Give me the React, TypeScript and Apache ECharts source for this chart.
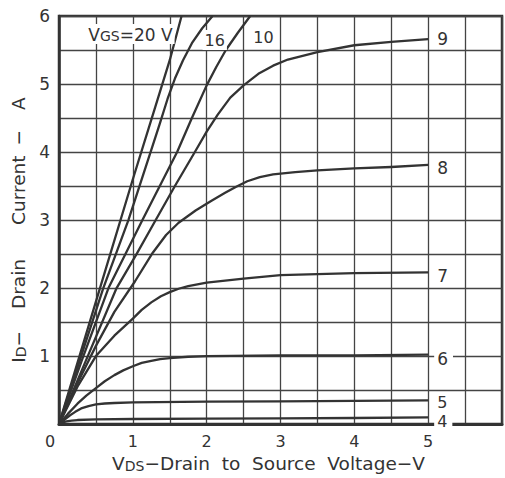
import React, { useEffect, useRef } from 'react';
import * as echarts from 'echarts';

// V_GS curves: [V_DS (V), I_D (A)]
const vgsNames = ['20', '16', '10', '9', '8', '7', '6', '5', '4'];
const curve20 = [[0, 0], [0.5, 1.8], [1, 3.6], [1.3, 4.65], [1.5, 5.35], [1.66, 6]];
const curve16 = [[0, 0], [0.3, 1.0], [0.6, 2.0], [0.94, 3.0], [1.24, 4.0], [1.36, 4.4], [1.47, 4.78], [1.57, 5.08], [1.68, 5.35], [1.8, 5.6], [1.94, 5.82], [2.08, 6.0]];
const curve10 = [[0, 0], [0.33, 1.0], [0.67, 2.0], [1.13, 3.0], [1.6, 4.0], [1.8, 4.5], [2.0, 4.98], [2.13, 5.25], [2.26, 5.5], [2.42, 5.75], [2.59, 6.0]];
const curve9 = [[0, 0], [0.39, 1.0], [0.78, 2.0], [1.05, 2.5], [1.31, 3.0], [1.57, 3.5], [1.84, 4.0], [2.0, 4.3], [2.15, 4.55], [2.32, 4.8], [2.5, 4.98], [2.7, 5.15], [2.9, 5.27], [3.1, 5.36], [3.5, 5.47], [4, 5.57], [4.5, 5.62], [5, 5.66]];
const curve8 = [[0, 0], [0.25, 0.6], [0.5, 1.15], [0.75, 1.65], [1.03, 2.1], [1.27, 2.52], [1.45, 2.78], [1.62, 2.96], [1.85, 3.14], [2.06, 3.28], [2.25, 3.4], [2.4, 3.49], [2.55, 3.57], [2.72, 3.63], [2.9, 3.67], [3.2, 3.705], [3.5, 3.73], [4, 3.76], [4.5, 3.78], [5, 3.81]];
const curve7 = [[0, 0], [0.25, 0.55], [0.5, 1.0], [0.75, 1.3], [1.0, 1.55], [1.12, 1.68], [1.25, 1.79], [1.38, 1.88], [1.5, 1.94], [1.62, 1.99], [1.75, 2.03], [2, 2.08], [2.5, 2.14], [3, 2.19], [4, 2.22], [5, 2.23]];
const curve6 = [[0, 0], [0.12, 0.15], [0.25, 0.3], [0.37, 0.42], [0.5, 0.53], [0.62, 0.63], [0.75, 0.72], [0.87, 0.79], [1, 0.85], [1.12, 0.9], [1.25, 0.93], [1.37, 0.955], [1.5, 0.97], [1.75, 0.99], [2, 1.0], [3, 1.01], [4, 1.01], [5, 1.02]];
const curve5 = [[0, 0], [0.08, 0.07], [0.15, 0.13], [0.22, 0.18], [0.3, 0.23], [0.4, 0.265], [0.5, 0.29], [0.62, 0.303], [0.75, 0.31], [1, 0.32], [2, 0.33], [3, 0.335], [4, 0.34], [5, 0.35]];
const curve4 = [[0, 0], [0.05, 0.025], [0.1, 0.04], [0.17, 0.05], [0.25, 0.06], [0.5, 0.07], [1, 0.075], [2, 0.08], [3, 0.085], [4, 0.09], [5, 0.1]];
const curves = [curve20, curve16, curve10, curve9, curve8, curve7, curve6, curve5, curve4];

const xTickLabels = ['1', '2', '3', '4', '5'];
const yTickLabels = ['1', '2', '3', '4', '5', '6'];

const FONT = 'DejaVu Sans';
const INK = '#333';

// label placement tweaks (pixels)
const labelStyle: Record<string, any> = {
  '20': { align: 'right', offset: [-12, 18] },
  '16': { offset: [-15, 24] },
  '10': { offset: [-4, 21] },
  '9': { verticalAlign: 'middle', offset: [1, 0] },
  '8': { verticalAlign: 'middle', offset: [1, 3] },
  '7': { verticalAlign: 'middle', offset: [1, 4] },
  '6': { verticalAlign: 'middle', offset: [1, 4] },
  '5': { verticalAlign: 'middle', offset: [1, 2], lineHeight: 11, fontSize: 16 },
  '4': { verticalAlign: 'middle', offset: [1, 4], lineHeight: 11, fontSize: 16 },
};

const sub = { fontFamily: FONT, fontSize: 14, color: INK, lineHeight: 12, verticalAlign: 'bottom' };
const big = { fontFamily: FONT, fontSize: 18.5, color: INK, lineHeight: 20, verticalAlign: 'bottom' };

export default function App() {
  const ref = useRef<HTMLDivElement>(null);
  useEffect(() => {
    document.body.style.margin = '0';
    const chart = echarts.init(ref.current!, null, { renderer: 'svg' });
    const series = vgsNames.map((name, k) => {
      const top = k < 3;
      return {
        type: 'line',
        name,
        data: curves[k],
        showSymbol: false,
        smooth: false,
        clip: true,
        lineStyle: { color: INK, width: 2.3, join: 'round' },
        z: 3,
        endLabel: {
          show: true,
          distance: 5,
          formatter: name === '20' ? '{v|V}{s|GS}{v|=20 V}' : name,
          color: INK,
          fontFamily: FONT,
          fontSize: top ? 16 : 17,
          lineHeight: top ? 18 : 14,
          backgroundColor: '#fff',
          padding: top ? [1, 2] : [0, 5, 0, 3],
          rich: {
            v: { fontFamily: FONT, fontSize: 17, color: INK, lineHeight: 18, verticalAlign: 'bottom' },
            s: { fontFamily: FONT, fontSize: 14, color: INK, lineHeight: 11, verticalAlign: 'bottom' },
          },
          ...labelStyle[name],
        },
      };
    });
    chart.setOption({
      animation: false,
      backgroundColor: '#fff',
      grid: { left: 59, top: 16, right: -9, bottom: 48, show: true, borderColor: INK, borderWidth: 2.5 },
      xAxis: {
        type: 'value', min: 0, max: 6, interval: 0.5,
        axisLine: { show: true, lineStyle: { color: INK, width: 3 } },
        axisTick: { show: false },
        splitLine: { show: true, lineStyle: { color: '#444', width: 1.3 } },
        axisLabel: {
          color: INK, fontFamily: FONT, fontSize: 16, margin: 9,
          formatter: (v: number) => {
            if (v === 0) return '{z|0}';
            const s = String(v);
            return xTickLabels.includes(s) ? s : '';
          },
          rich: { z: { fontFamily: FONT, fontSize: 16, color: INK, padding: [0, 18, 0, 0] } },
        },
        name: '{v|V}{s|DS}{v|−Drain  to  Source  Voltage−V}',
        nameLocation: 'middle',
        nameGap: 27,
        nameTextStyle: {
          padding: [0, 24, 0, 0],
          rich: { v: big, s: sub },
        },
      },
      yAxis: {
        type: 'value', min: 0, max: 6, interval: 0.5,
        axisLine: { show: true, lineStyle: { color: INK, width: 2.5 } },
        axisTick: { show: false },
        splitLine: { show: true, lineStyle: { color: '#444', width: 1.3 } },
        axisLabel: {
          color: INK, fontFamily: FONT, fontSize: 17, margin: 9,
          formatter: (v: number) => {
            const s = String(v);
            return yTickLabels.includes(s) ? s : '';
          },
        },
        name: '{v|I}{s|D}{v|−}{g1| }{v|Drain}{g2| }{v|Current}{g3| }{v|−}{g4| }{v|A}',
        nameLocation: 'middle',
        nameGap: 28,
        nameRotate: 90,
        nameTextStyle: {
          padding: [0, 20, 0, 0],
          rich: {
            v: big,
            s: sub,
            g1: { ...big, width: 22 },
            g2: { ...big, width: 34 },
            g3: { ...big, width: 10 },
            g4: { ...big, width: 20 },
          },
        },
      },
      series,
    });
    return () => chart.dispose();
  }, []);
  return <div ref={ref} style={{ width: 505, height: 478 }} />;
}
